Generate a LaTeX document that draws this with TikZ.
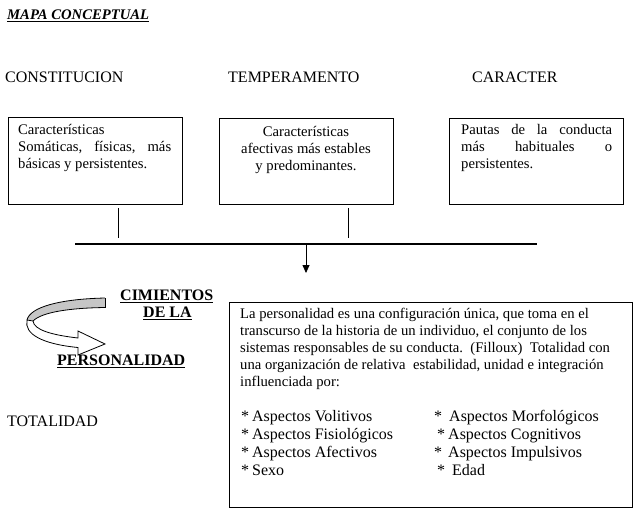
\documentclass[tikz,border=0pt]{standalone}
\usepackage{fontspec}
\setmainfont{Liberation Serif}
\usetikzlibrary{arrows.meta}
\newcommand{\fsA}{\fontsize{14.67}{16.9}\selectfont}
\newcommand{\fsB}{\fontsize{16}{18}\selectfont}
\begin{document}
\begin{tikzpicture}[x=1pt,y=-1pt,
  box/.style={draw,line width=1pt,anchor=north west,inner sep=0pt},
  txt/.style={anchor=base west,inner sep=0pt,font=\fsA},
  ctxt/.style={anchor=base,inner sep=0pt,font=\fsA},
  head/.style={anchor=base west,inner sep=0pt,font=\fsB},
  bhead/.style={anchor=base west,inner sep=0pt,font=\fsB\bfseries},
  conn/.style={line width=0.8pt},
  hconn/.style={line width=1.2pt},
  ul/.style={line width=1.2pt}]
\useasboundingbox (0,0) rectangle (639,512);
\fill[white] (0,0) rectangle (639,512);

% title
\node[anchor=base west,inner sep=0pt,font=\fsA\bfseries\itshape] (title) at (7,19) {MAPA CONCEPTUAL};
\draw[ul] ([yshift=-2.5pt]title.base west) -- ([yshift=-2.5pt]title.base east);

% headings
\node[head] (h1) at (5,82) {CONSTITUCION};
\node[head] (h2) at (228,82) {TEMPERAMENTO};
\node[head] (h3) at (472,82) {CARACTER};

% boxes
\node[box,minimum width=174pt,minimum height=87pt] (b1) at (8,117) {};
\node[box,minimum width=174pt,minimum height=86pt] (b2) at (219,118) {};
\node[box,minimum width=174pt,minimum height=86pt] (b3) at (449,118) {};

\node[txt] (t1a) at (18,134) {Características};
\node[txt] (t1b) at (18,151) {\makebox[153pt][s]{Somáticas, físicas, más}};
\node[txt] (t1c) at (18,168) {básicas y persistentes.};

\node[ctxt] (t2a) at (306,136) {Características};
\node[ctxt] (t2b) at (306,153) {afectivas más estables};
\node[ctxt] (t2c) at (306,170) {y predominantes.};

\node[txt] (t3a) at (461,134) {\makebox[151pt][s]{Pautas de la conducta}};
\node[txt] (t3b) at (461,151) {\makebox[151pt][s]{más habituales o}};
\node[txt] (t3c) at (461,168) {persistentes.};

% connectors
\coordinate (v1a) at (118,208);
\coordinate (v1b) at (118,238);
\coordinate (v2a) at (348,208);
\coordinate (v2b) at (348,238);
\coordinate (hL) at (75,244);
\coordinate (hR) at (537,244);
\coordinate (hM) at (306,244);
\coordinate (hA) at (306,273);
\draw[conn] (v1a) -- (v1b);
\draw[conn] (v2a) -- (v2b);
\draw[hconn] (hL) -- (hR);
\draw[conn,-{Triangle[width=7pt,length=8pt]}] (hM) -- (hA);

% curved block arrow
\fill[gray!45] (105,298) .. controls (60,299) and (30,307) .. (27,320)
   -- (33,321) .. controls (42,312) and (70,308) .. (105,307.5) -- cycle;
\draw[line width=0.8pt] (105,298) .. controls (60,299) and (30,307) .. (27,320);
\draw[line width=0.8pt] (33,321) .. controls (42,312) and (70,308) .. (105,307.5);
\draw[line width=0.8pt] (105,298) -- (105,307.5);
\filldraw[fill=white,line width=0.8pt] (27,320) .. controls (24,334) and (42,344) .. (78,347.5)
   -- (78,355) -- (105,344) -- (78,331) -- (78,338)
   .. controls (52,335) and (34,330) .. (33,321) -- cycle;

% side labels
\node[bhead] (c1) at (120,300) {CIMIENTOS};
\draw[ul] ([yshift=-2.5pt]c1.base west) -- ([yshift=-2.5pt]c1.base east);
\node[bhead] (c2) at (143,317) {DE LA};
\draw[ul] ([yshift=-2.5pt]c2.base west) -- ([yshift=-2.5pt]c2.base east);
\node[bhead] (c3) at (57,365) {PERSONALIDAD};
\draw[ul] ([yshift=-2.5pt]c3.base west) -- ([yshift=-2.5pt]c3.base east);

\node[head] (tot) at (7,426) {TOTALIDAD};

% big box
\node[box,minimum width=403pt,minimum height=205pt] (b4) at (229,302) {};
\node[txt] (p1) at (240,318) {La personalidad es una configuración única, que toma en el};
\node[txt] (p2) at (240,335) {transcurso de la historia de un individuo, el conjunto de los};
\node[txt] (p3) at (240,352) {sistemas responsables de su conducta.\ \ (Filloux)\ \ Totalidad con};
\node[txt] (p4) at (240,369) {una organización de relativa\ \ estabilidad, unidad e integración};
\node[txt] (p5) at (240,386) {influenciada por:};

\node[head] (l1) at (241,421) {\makebox[11pt][l]{*}Aspectos Volitivos};
\node[head] (l2) at (241,439) {\makebox[11pt][l]{*}Aspectos Fisiológicos};
\node[head] (l3) at (241,457) {\makebox[11pt][l]{*}Aspectos Afectivos};
\node[head] (l4) at (241,475) {\makebox[11pt][l]{*}Sexo};

\node[head] (r1) at (434,421) {\makebox[15pt][l]{*}Aspectos Morfológicos};
\node[head] (r2) at (437,439) {\makebox[11pt][l]{*}Aspectos Cognitivos};
\node[head] (r3) at (434,457) {\makebox[14pt][l]{*}Aspectos Impulsivos};
\node[head] (r4) at (437,475) {\makebox[15pt][l]{*}Edad};
\end{tikzpicture}
\end{document}
